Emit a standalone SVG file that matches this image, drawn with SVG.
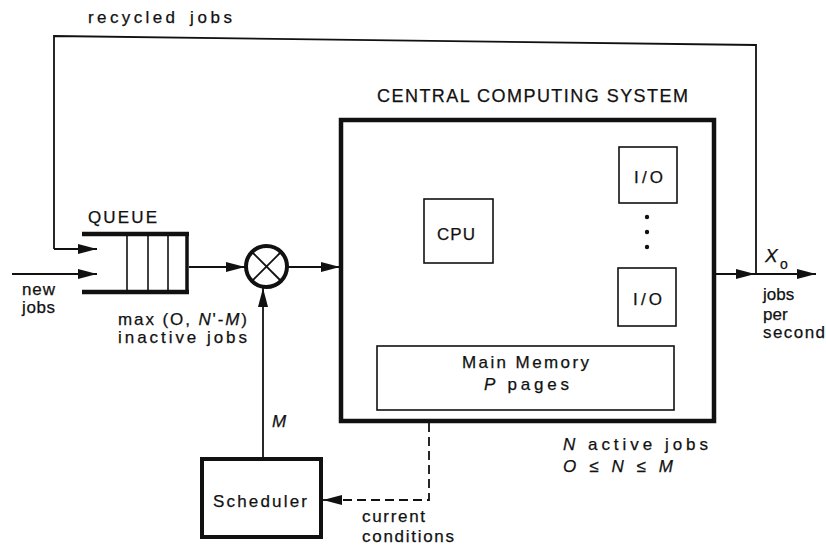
<svg xmlns="http://www.w3.org/2000/svg" width="826" height="548" viewBox="0 0 826 548">
<defs>
<style>
text{font-family:"Liberation Sans",Arial,sans-serif;fill:#111;stroke:#111;stroke-width:0.25;}
.t{font-size:17px;}
.c{font-size:17px;}
.i{font-style:italic;}
.thin{fill:none;stroke:#111;stroke-width:1.6;}
.thick{fill:none;stroke:#111;stroke-width:4.5;}
.ln{fill:none;stroke:#111;stroke-width:1.8;}
.dash{fill:none;stroke:#111;stroke-width:1.8;stroke-dasharray:9 5;}
</style>
<marker id="ah" markerUnits="userSpaceOnUse" markerWidth="20" markerHeight="12" refX="19" refY="6" orient="auto">
<path d="M0,1 L19,6 L0,11 z" fill="#111"/>
</marker>
</defs>
<rect width="826" height="548" fill="#fff"/>

<g id="connectors">
<polyline class="ln" points="54,249 54,36 756,45 756,274" />
<line class="ln" x1="54" y1="249" x2="97" y2="249" marker-end="url(#ah)"/>
<line class="ln" x1="12" y1="274" x2="97" y2="274" marker-end="url(#ah)"/>
<line class="ln" x1="189" y1="267" x2="245" y2="267" marker-end="url(#ah)"/>
<line class="ln" x1="288" y1="267" x2="340" y2="267" marker-end="url(#ah)"/>
<line class="ln" x1="263" y1="459" x2="263" y2="288" marker-end="url(#ah)"/>
<line class="ln" x1="716" y1="274" x2="755" y2="274" marker-end="url(#ah)"/>
<line class="ln" x1="755" y1="274" x2="816" y2="274" marker-end="url(#ah)"/>
<polyline class="dash" points="429,423 429,500 340,500"/>
<line class="ln" x1="340" y1="500" x2="323" y2="500" marker-end="url(#ah)"/>
</g>

<g id="recycled-label">
<text class="t" x="88" y="23" textLength="87" lengthAdjust="spacing">recycled</text>
<text class="t" x="190" y="23" textLength="42" lengthAdjust="spacing">jobs</text>
</g>

<g id="new-jobs">
<text class="t" x="22" y="295" textLength="33" lengthAdjust="spacing">new</text>
<text class="t" x="22" y="313" textLength="33" lengthAdjust="spacing">jobs</text>
</g>

<g id="queue">
<text class="c" x="88" y="223" textLength="69" lengthAdjust="spacing">QUEUE</text>
<line stroke="#111" stroke-width="4.5" x1="82" y1="234" x2="189" y2="234"/>
<line stroke="#111" stroke-width="4.5" x1="82" y1="292" x2="189" y2="292"/>
<line stroke="#111" stroke-width="3.5" x1="187" y1="232" x2="187" y2="294"/>
<line stroke="#111" stroke-width="1.6" x1="127" y1="234" x2="127" y2="292"/>
<line stroke="#111" stroke-width="1.6" x1="148" y1="234" x2="148" y2="292"/>
<line stroke="#111" stroke-width="1.6" x1="168" y1="234" x2="168" y2="292"/>
<text class="t" x="118" y="325" textLength="129" lengthAdjust="spacing">max (O, <tspan class="i">N</tspan>'-<tspan class="i">M</tspan>)</text>
<text class="t" x="118" y="343" textLength="129" lengthAdjust="spacing">inactive  jobs</text>
</g>

<g id="switch">
<circle cx="266.5" cy="266.5" r="20.5" fill="#fff" stroke="#111" stroke-width="4"/>
<line stroke="#111" stroke-width="1.8" x1="252" y1="252" x2="281" y2="281"/>
<line stroke="#111" stroke-width="1.8" x1="281" y1="252" x2="252" y2="281"/>
</g>

<g id="central-system">
<text style="font-size:18px" x="377" y="102" textLength="311" lengthAdjust="spacing">CENTRAL COMPUTING  SYSTEM</text>
<rect class="thick" x="341" y="120" width="373" height="301"/>
</g>

<g id="cpu">
<rect class="thin" x="424" y="199" width="69" height="64"/>
<text class="t" x="437" y="240" textLength="38" lengthAdjust="spacing">CPU</text>
</g>

<g id="io1">
<rect class="thin" x="619" y="147" width="58" height="56"/>
<text class="t" x="634" y="183" textLength="29" lengthAdjust="spacing">I/O</text>
</g>

<g id="io-dots">
<circle cx="647" cy="217" r="2.2" fill="#111"/>
<circle cx="647" cy="232" r="2.2" fill="#111"/>
<circle cx="647" cy="247" r="2.2" fill="#111"/>
</g>

<g id="io2">
<rect class="thin" x="618" y="268" width="58" height="58"/>
<text class="t" x="633" y="305" textLength="29" lengthAdjust="spacing">I/O</text>
</g>

<g id="main-memory">
<rect class="thin" x="377" y="346" width="297" height="64"/>
<text class="t" x="462" y="368" textLength="127" lengthAdjust="spacing">Main  Memory</text>
<text class="t" x="484" y="390" textLength="85" lengthAdjust="spacing"><tspan class="i">P</tspan>  pages</text>
</g>

<g id="active-jobs">
<text class="t" x="563" y="450" textLength="145" lengthAdjust="spacing"><tspan class="i">N</tspan>  active  jobs</text>
<text class="t i" x="563" y="472" textLength="110" lengthAdjust="spacing">O≤N≤M</text>
</g>

<g id="scheduler">
<rect x="202" y="459" width="119" height="78" fill="none" stroke="#111" stroke-width="4"/>
<text class="t" x="213" y="507" textLength="94" lengthAdjust="spacing">Scheduler</text>
<text class="t i" x="272" y="427">M</text>
</g>

<g id="current-conditions">
<text class="t" x="362" y="522" textLength="63" lengthAdjust="spacing">current</text>
<text class="t" x="362" y="542" textLength="92" lengthAdjust="spacing">conditions</text>
</g>

<g id="output">
<text class="i" style="font-size:19px" x="765" y="262">X</text>
<text style="font-size:14px" x="780" y="269">o</text>
<text class="t" x="763" y="300">jobs</text>
<text class="t" x="763" y="320">per</text>
<text class="t" x="763" y="338" textLength="62" lengthAdjust="spacing">second</text>
</g>
</svg>
